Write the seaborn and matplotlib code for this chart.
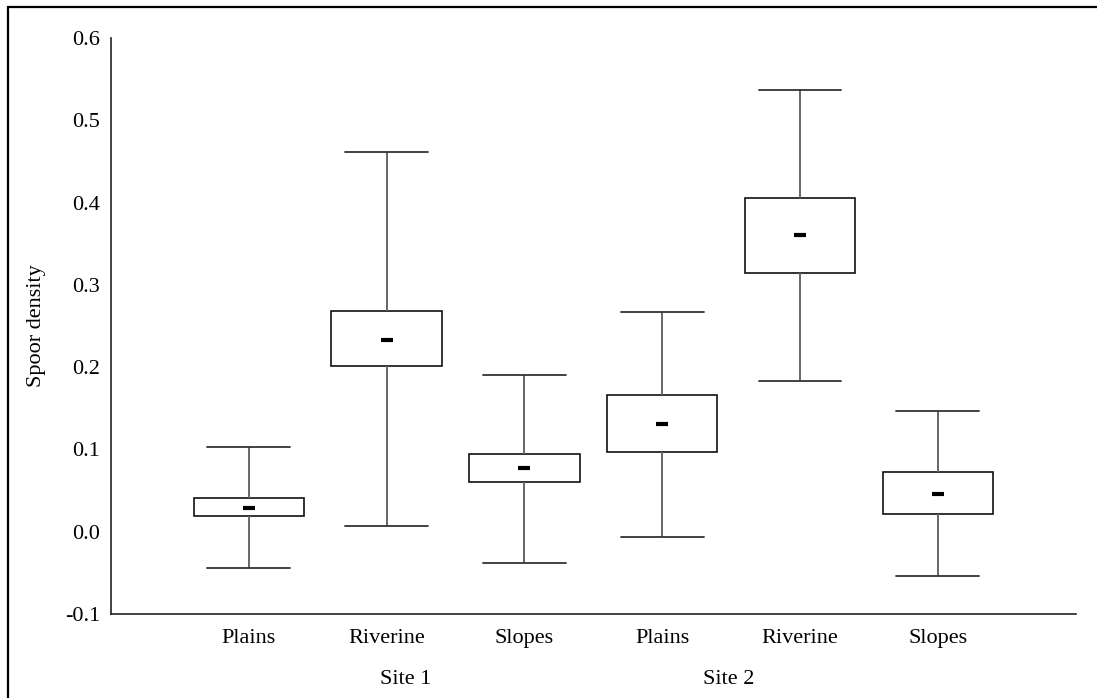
import matplotlib
matplotlib.use("Agg")
import matplotlib.pyplot as plt
import seaborn as sns
import pandas as pd
from matplotlib.patches import Rectangle

# Habitat groups, in plotting order
sites = ["Site 1", "Site 1", "Site 1", "Site 2", "Site 2", "Site 2"]
habitats = ["Plains", "Riverine", "Slopes", "Plains", "Riverine", "Slopes"]

# Five-number summaries of spoor density per group
whisker_low = [-0.044, 0.007, -0.038, -0.006, 0.183, -0.054]
q1 = [0.019, 0.201, 0.060, 0.097, 0.315, 0.021]
median = [0.029, 0.233, 0.077, 0.131, 0.361, 0.046]
q3 = [0.041, 0.268, 0.094, 0.166, 0.406, 0.073]
whisker_high = [0.103, 0.461, 0.191, 0.267, 0.537, 0.147]

y_ticks = [-0.1, 0.0, 0.1, 0.2, 0.3, 0.4, 0.5, 0.6]
y_tick_labels = ["-0.1", "0.0", "0.1", "0.2", "0.3", "0.4", "0.5", "0.6"]

groups = [f"{s} {h}" for s, h in zip(sites, habitats)]

# Long-form table: the five summary values per group reproduce the box stats
rows = []
for g, lo, a, m, b, hi in zip(groups, whisker_low, q1, median, q3, whisker_high):
    for v in (lo, a, m, b, hi):
        rows.append({"group": g, "density": v})
df = pd.DataFrame(rows)
med_df = pd.DataFrame({"group": groups, "density": median})

sns.set_theme(style="white")
plt.rcParams["font.family"] = ["Liberation Serif", "DejaVu Serif"]

FS = 16

fig = plt.figure(figsize=(10.97, 6.98), dpi=100)
ax = fig.add_axes([0.1012, 0.1203, 0.8793, 0.8253])

sns.boxplot(
    data=df, x="group", y="density", order=groups, ax=ax,
    whis=(0, 100), width=0.8, showfliers=False,
    color="white", linecolor="#3a3a3a", linewidth=1.1,
    boxprops=dict(facecolor="white", edgecolor="#111111", linewidth=1.2),
    whiskerprops=dict(color="#666666", linewidth=1.4),
    capprops=dict(color="#333333", linewidth=1.3),
    medianprops=dict(visible=False),
    capwidths=0.6,
)

# Medians as short dashes
sns.scatterplot(
    data=med_df, x="group", y="density", ax=ax,
    marker="_", s=80, color="black", linewidth=3, zorder=5, legend=False,
)

ax.set_xlim(-1, 6)
ax.set_ylim(-0.1, 0.6)
ax.set_yticks(y_ticks)
ax.set_yticklabels(y_tick_labels)
ax.set_xticks(range(len(habitats)))
ax.set_xticklabels(habitats)
ax.tick_params(axis="both", length=0, labelsize=FS, colors="black")
ax.tick_params(axis="x", pad=11)
ax.tick_params(axis="y", pad=8)
ax.set_xlabel("")
ax.set_ylabel("Spoor density", fontsize=FS, color="black")
ax.yaxis.set_label_coords(-0.0674, 0.5)

for side in ("top", "right"):
    ax.spines[side].set_visible(False)
for side in ("left", "bottom"):
    ax.spines[side].set_color("#222222")
    ax.spines[side].set_linewidth(1.2)

# Site labels beneath the habitat names
trans = ax.get_xaxis_transform()
ax.text(1.14, -0.113, "Site 1", transform=trans, ha="center", va="center",
        fontsize=FS, color="black")
ax.text(3.48, -0.113, "Site 2", transform=trans, ha="center", va="center",
        fontsize=FS, color="black")

# Frame around the figure
fig.patches.append(Rectangle((8 / 1097, -0.05), 1.2, (698 - 7) / 698 + 0.05,
                             transform=fig.transFigure, fill=False,
                             edgecolor="black", linewidth=1.6))

fig.savefig("out.png", dpi=100)
